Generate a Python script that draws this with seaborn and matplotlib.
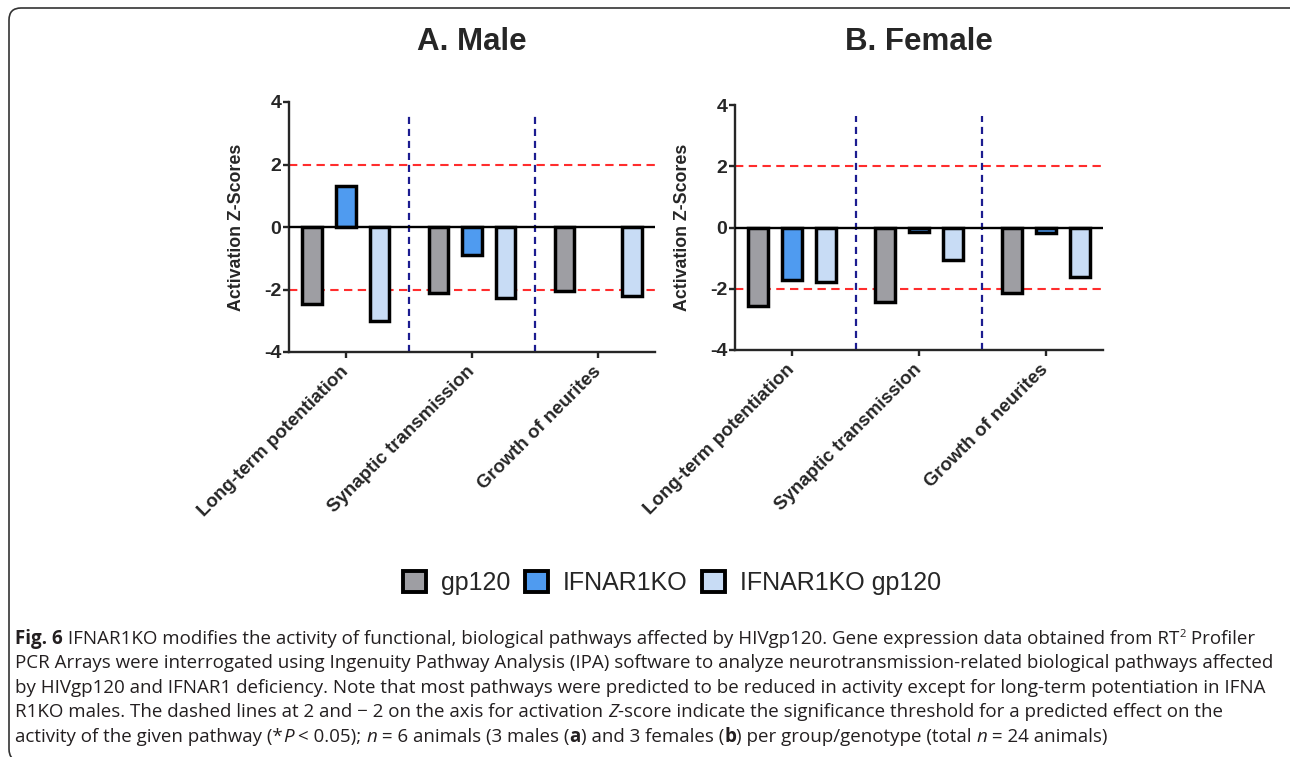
import numpy as np
import pandas as pd
import matplotlib
matplotlib.use("Agg")
import matplotlib.pyplot as plt
import seaborn as sns
from matplotlib.patches import Patch, FancyBboxPatch
from matplotlib.transforms import IdentityTransform

# ---------------- data ----------------
pathways = ["Long-term potentiation", "Synaptic transmission", "Growth of neurites"]
groups = ["gp120", "IFNAR1KO", "IFNAR1KO gp120"]
male_gp120 = [-2.45, -2.12, -2.04]
male_ko = [1.30, -0.90, np.nan]
male_ko_gp120 = [-3.02, -2.26, -2.22]
female_gp120 = [-2.57, -2.43, -2.15]
female_ko = [-1.72, -0.14, -0.19]
female_ko_gp120 = [-1.77, -1.05, -1.60]
panel_titles = ["A. Male", "B. Female"]
y_ticks = [-4, -2, 0, 2, 4]
thresholds = [2, -2]
separators = [0.5, 1.5]
colors = ["#9e9ea3", "#4f9bf0", "#c8dcf5"]
y_label = "Activation Z-Scores"


def make_df(a, b, c):
    rows = []
    for vals, g in zip([a, b, c], groups):
        for p, v in zip(pathways, vals):
            rows.append({"pathway": p, "group": g, "z": v})
    return pd.DataFrame(rows)


panels = [make_df(male_gp120, male_ko, male_ko_gp120),
          make_df(female_gp120, female_ko, female_ko_gp120)]

# ---------------- style ----------------
sns.set_style("ticks")
plt.rcParams["font.family"] = ["Liberation Sans", "DejaVu Sans"]
plt.rcParams["axes.unicode_minus"] = False

W, H = 1290, 757
fig = plt.figure(figsize=(W / 100, H / 100), dpi=100)


def ax_rect(left, right, top, bottom):
    return [left / W, 1 - bottom / H, (right - left) / W, (bottom - top) / H]


rects = [ax_rect(289, 655, 102, 352), ax_rect(735, 1103, 105, 350)]

for i, (df, rect) in enumerate(zip(panels, rects)):
    ax = fig.add_axes(rect)
    sns.barplot(data=df, x="pathway", y="z", hue="group", order=pathways,
                hue_order=groups, palette=colors, saturation=1,
                edgecolor="black", linewidth=2.5, gap=0.42, errorbar=None,
                legend=False, ax=ax, zorder=2)
    ax.set_xlim(-0.45, 2.45)
    ax.set_ylim(-4, 4)
    ax.set_yticks(y_ticks)
    ax.set_yticklabels([str(t) for t in y_ticks])
    for t in thresholds:
        ax.axhline(t, color="#ff2d2d", lw=1.5, ls=(0, (4, 2.6)), zorder=1)
    ax.vlines(separators, -4, 3.65, colors="#1c1c90", lw=1.6,
              linestyles=(0, (3.2, 2.2)), zorder=1)
    ax.axhline(0, color="black", lw=1.7, zorder=3)
    sns.despine(ax=ax)
    for s in ["left", "bottom"]:
        ax.spines[s].set_linewidth(1.7)
    ax.tick_params(axis="y", width=1.7, length=4.5, pad=1, labelsize=14)
    ax.tick_params(axis="x", width=1.7, length=4.5, pad=8, labelsize=13.5)
    for lab in ax.get_yticklabels():
        lab.set_fontweight("bold")
    for lab in ax.get_xticklabels():
        lab.set_fontweight("bold")
        lab.set_rotation(45)
        lab.set_ha("right")
        lab.set_va("center")
        lab.set_rotation_mode("anchor")
    ax.set_xlabel("")
    ax.set_ylabel(y_label, fontsize=12.8, fontweight="bold")
    ax.yaxis.set_label_coords(-0.12, 0.5)
    cx = rect[0] + rect[2] / 2
    fig.text(cx, 1 - 42 / H, panel_titles[i], ha="center", va="center",
             fontsize=22.5, fontweight="bold")

# legend
handles = [Patch(facecolor=c, edgecolor="black", linewidth=2.8) for c in colors]
fig.legend(handles, groups, loc="center", bbox_to_anchor=(672 / W, 1 - 583 / H),
           ncol=3, frameon=False, fontsize=18, handlelength=0.9,
           handleheight=0.9, handletextpad=0.6, columnspacing=0.6)

# frame
frame = FancyBboxPatch((9, -4), 1295, H - 8 + 4, boxstyle="round,pad=0,rounding_size=12",
                       transform=IdentityTransform(), facecolor="none",
                       edgecolor="#333333", lw=1.2, figure=fig)
fig.patches.append(frame)

# ---------------- caption ----------------
cap_font = ["Open Sans", "DejaVu Sans"]
REG = dict(weight="normal", style="normal")
BOLD = dict(weight="bold", style="normal")
IT = dict(weight="normal", style="italic")
SUP = dict(weight="normal", style="normal", sup=True)

caption = [
    [("Fig. 6", BOLD), (" IFNAR1KO modifies the activity of functional, biological pathways affected by HIVgp120. Gene expression data obtained from RT", REG), ("2", SUP), (" Profiler", REG)],
    [("PCR Arrays were interrogated using Ingenuity Pathway Analysis (IPA) software to analyze neurotransmission-related biological pathways affected", REG)],
    [("by HIVgp120 and IFNAR1 deficiency. Note that most pathways were predicted to be reduced in activity except for long-term potentiation in IFNA", REG)],
    [("R1KO males. The dashed lines at 2 and \u2212 2 on the axis for activation ", REG), ("Z", IT), ("-score indicate the significance threshold for a predicted effect on the", REG)],
    [("activity of the given pathway (*", REG), ("P", IT), (" < 0.05); ", REG), ("n", IT), (" = 6 animals (3 males (", REG), ("a", BOLD), (") and 3 females (", REG), ("b", BOLD), (") per group/genotype (total ", REG), ("n", IT), (" = 24 animals)", REG)],
]
line_y = [639, 663, 688, 712, 737]
line_end = [1262, 1268, 1270, 1222, 938]
x0 = 15

renderer = fig.canvas.get_renderer()


def run_width(txt, st, size):
    sz = size * 0.6 if st.get("sup") else size
    kw = dict(family=cap_font, fontsize=sz, fontweight=st["weight"], fontstyle=st["style"])
    t1 = fig.text(0, 0, "|" + txt + "|", **kw)
    t2 = fig.text(0, 0, "||", **kw)
    w = t1.get_window_extent(renderer).width - t2.get_window_extent(renderer).width
    t1.remove()
    t2.remove()
    return w


base = 11.5
ratios = []
for runs, end in zip(caption[:4], line_end[:4]):
    tw = sum(run_width(t, s, base) for t, s in runs)
    ratios.append((end - x0) / tw)
size = base * float(np.median(ratios))

for runs, yc in zip(caption, line_y):
    x = x0
    baseline = H - (yc + 5)
    for txt, st in runs:
        sz = size * 0.6 if st.get("sup") else size
        yy = baseline + (size * 0.55 if st.get("sup") else 0)
        fig.text(x / W, yy / H, txt, family=cap_font, fontsize=sz,
                 fontweight=st["weight"], fontstyle=st["style"],
                 ha="left", va="baseline", color="#231f20")
        x += run_width(txt, st, size)

fig.savefig("out.png", dpi=100, facecolor="white")
